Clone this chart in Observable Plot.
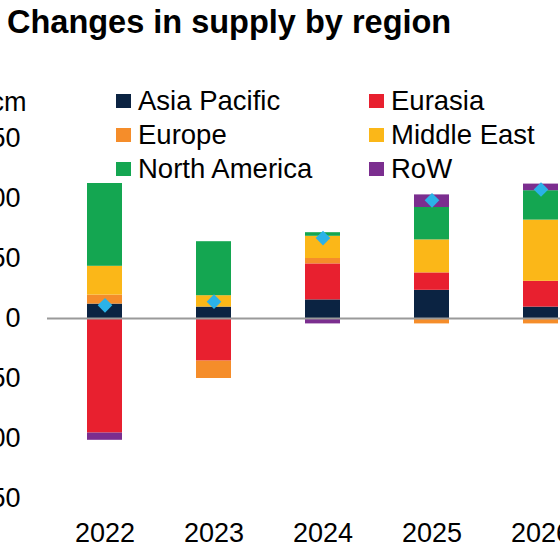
<!DOCTYPE html>
<html>
<head>
<meta charset="utf-8">
<script src="https://cdn.jsdelivr.net/npm/d3@7"></script>
<script src="https://cdn.jsdelivr.net/npm/@observablehq/plot@0.6"></script>
<style>
  html, body { margin: 0; padding: 0; background: #fff; }
  body {
    width: 560px; height: 560px; overflow: hidden; position: relative;
    font-family: "Liberation Sans", Arial, Helvetica, sans-serif; color: #000;
  }
  #title {
    position: absolute; left: 7px; top: 2px; margin: 0;
    font-size: 32.5px; font-weight: bold; line-height: 40px; white-space: nowrap;
  }
  #chart { position: absolute; left: 0; top: 48px; }
  #chart svg { max-width: none; overflow: hidden; }
  #legend {
    position: absolute; left: 116px; top: 84px;
    display: grid; grid-template-columns: 253px auto; grid-auto-rows: 34px;
    font-size: 27.5px; line-height: 34px; white-space: nowrap;
  }
  .item { display: flex; align-items: center; }
  .swatch { width: 15px; height: 14px; margin-right: 7px; flex: none; }
</style>
</head>
<body>
<h1 id="title">Changes in supply by region</h1>
<div id="chart"></div>
<div id="legend"></div>
<script>
// Annual change in gas supply (bcm) by region
const years = ["2022", "2023", "2024", "2025", "2026"];
const regions = ["Asia Pacific", "Eurasia", "Europe", "Middle East", "North America", "RoW"];
const colors = ["#0b2342", "#e8202f", "#f58d2a", "#fbb718", "#14a651", "#7b2e8f"];

const asiaPacific  = [12, 9.5, 15.5, 23.5, 9.5];
const eurasia      = [-95.5, -35.5, 30, 14.5, 21.5];
const europe       = [7.5, -14.5, 4.5, -4.5, -4.5];
const middleEast   = [24, 9.5, 18.5, 27.5, 51];
const northAmerica = [69, 45, 3, 27, 24.5];
const rest         = [-6, 0, -4.5, 10.5, 5.5];

const yTicks = [-150, -100, -50, 0, 50, 100, 150];

const series = [asiaPacific, eurasia, europe, middleEast, northAmerica, rest];
const rows = [];
regions.forEach((region, i) => {
  years.forEach((year, j) => rows.push({year, region, value: series[i][j]}));
});
// Net change per year, shown as a diamond
const net = years.map((year, j) => ({year, value: d3.sum(series, s => s[j])}));

const chart = Plot.plot({
  width: 560,
  height: 512,
  marginTop: 90,
  marginBottom: 62,
  marginLeft: 23,
  marginRight: 0,
  style: {fontFamily: "Liberation Sans, Arial, sans-serif", color: "#000", background: "transparent"},
  x: {domain: years, range: [9.6, 634.4], padding: 0.68, axis: null},
  y: {domain: [-150, 150], axis: null},
  color: {domain: regions, range: colors},
  marks: [
    Plot.barY(rows, {x: "year", y: "value", fill: "region", order: null}),
    Plot.ruleY([0], {stroke: "#9a9a9a", strokeWidth: 2, insetLeft: 24}),
    Plot.dot(net, {x: "year", y: "value", symbol: "diamond2", r: 6.6, fill: "#2bb2e8", stroke: null}),
    Plot.axisY(yTicks, {anchor: "left", tickSize: 0, tickPadding: 3, fontSize: 27, label: null, tickFormat: d => String(d)}),
    Plot.axisX({anchor: "bottom", tickSize: 0, tickPadding: 24, fontSize: 27, label: null}),
    Plot.text(["bcm"], {frameAnchor: "top-left", textAnchor: "end", dx: 3, dy: -47, fontSize: 27, fill: "#000"})
  ]
});
document.getElementById("chart").appendChild(chart);

const legend = d3.select("#legend");
regions.forEach((region, i) => {
  const item = legend.append("div").attr("class", "item");
  item.append("span").attr("class", "swatch").style("background", colors[i]);
  item.append("span").text(region);
});
</script>
</body>
</html>
